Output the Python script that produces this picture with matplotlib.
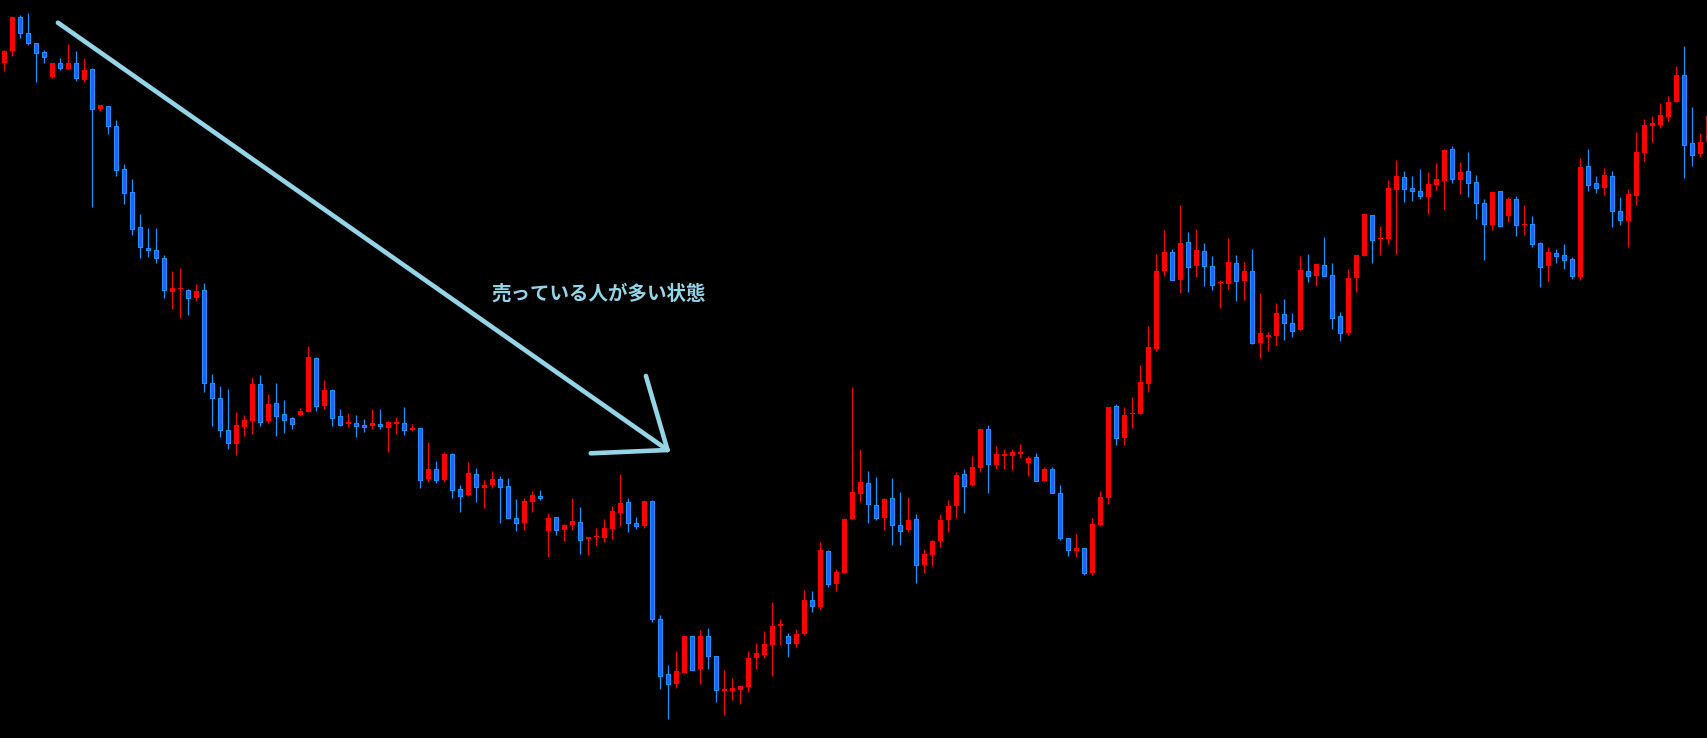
import matplotlib
matplotlib.use("Agg")
import matplotlib.pyplot as plt
import numpy as np

# ---- data (price levels, arbitrary units) ----
open_ = [675.3, 687.3, 720.7, 704.7, 694.7, 685.7, 661.3, 674.7, 669, 674.7,
         658, 668.7, 629.3, 631.7, 611.7, 568.7, 545.7, 510.7, 489.7, 487.7,
         479.7, 446.3, 448.7, 447.7, 440.3, 447.7, 355.3, 339.7, 308.3, 294.3,
         311.3, 317.3, 353.7, 317.3, 334.7, 324, 319.7, 323, 326.3, 379.7,
         332.3, 347.7, 321.7, 314.3, 314.7, 312.3, 312.3, 313.7, 310.3, 314.3,
         314.7, 308, 309.7, 259, 268.7, 258, 284, 249, 243, 263.7,
         250.3, 253, 258.7, 251.7, 220, 215.3, 236.3, 242, 207.3, 220.7,
         208.3, 213, 215.7, 199.3, 200.7, 200.3, 209, 225, 236, 215.3,
         212.3, 237, 119, 64, 54.3, 65.3, 102, 69.3, 102, 82,
         47.3, 47.3, 48.3, 51.3, 80.3, 83, 93, 112.3, 102, 94,
         104, 138, 131, 187, 154.3, 165.3, 219, 244.3, 255, 233,
         220.3, 240, 213, 208.3, 219, 173.3, 183.3, 197.3, 218.3, 232.3,
         264, 253, 270.3, 309, 273, 282.5, 282.3, 284.3, 275, 281,
         257.3, 269, 245, 200, 187.3, 190, 165.3, 213.3, 240.3, 332,
         300.3, 323.7, 324.3, 354.3, 389, 467, 486, 458.3, 496, 472.3,
         487, 472, 454.7, 454.3, 475, 457.3, 467, 395.3, 401.5, 402.3,
         424, 415, 408.3, 467, 462.3, 473, 463, 422, 405.3, 460.3,
         482.3, 523, 498.7, 499, 548.3, 561, 550, 547, 541.3, 553.3,
         557.3, 589, 558.3, 567, 556, 535, 513.3, 547, 522.3, 539,
         512.7, 514, 495, 472.3, 485, 483, 479, 461.3, 572, 555,
         550.3, 562, 527, 517.3, 542.3, 585.3, 612, 613, 621, 636.3,
         663, 595, 584.3, 596.3]

high = [688, 721, 723, 725, 694.7, 688, 674.7, 679.7, 694, 687,
        679.7, 669.7, 633, 631.7, 617.7, 574, 559, 524, 509.7, 509.7,
        482.7, 467, 470, 448.7, 453.7, 454.7, 364, 352, 349, 326,
        323, 361, 363, 344, 355, 338, 320.7, 330, 392, 380.7,
        358, 349, 329, 325, 323, 319, 329, 329, 317, 321,
        331, 314, 309.7, 296, 277, 286, 285, 253, 276, 270,
        258, 267, 262, 260, 239, 239.7, 247, 248, 225.3, 220.7,
        214, 240, 231, 201, 210, 219, 232, 264, 240, 221,
        237, 238, 123, 73, 87, 102, 102, 108, 110, 82,
        68.3, 60.3, 52, 87, 95, 107, 136, 119, 105, 109,
        148, 147, 196, 188, 169, 220, 351, 289, 267, 261,
        240, 260, 246, 241, 224, 189, 198, 224, 238, 266,
        269, 282, 309, 313, 292, 289, 289, 294, 282, 285,
        271, 271, 253, 200, 204, 190, 220, 247, 331, 334,
        331, 341, 373, 412, 484, 508, 489, 533, 506, 509,
        495, 482, 458, 500, 483, 476, 489, 445, 406, 435,
        439, 425, 482, 484, 474, 501, 475, 426, 469, 483,
        524, 523, 512, 558, 578, 567, 562, 569, 566, 575,
        589, 592, 576, 586, 563, 539, 546, 547, 541, 542,
        533, 522, 496, 491, 489, 494, 481, 580, 589, 562,
        570, 567, 541, 549, 606, 619, 622, 635, 642, 672,
        692, 631, 605, 622]

low = [667, 682.3, 700.3, 693.3, 656.3, 675.3, 660.3, 668.3, 669, 657.3,
       656.3, 531.3, 627.3, 604.3, 562.3, 534.3, 503.3, 480.3, 481.3, 475.3,
       440.3, 429, 420.3, 423.3, 437, 346.3, 312.3, 301.3, 289.3, 283,
       302.3, 304.3, 312.3, 315.3, 302.3, 305.3, 309.3, 322.3, 326.3, 327.3,
       329, 312.3, 312.3, 311.3, 301.3, 306.3, 309, 309, 286.3, 304.3,
       303.3, 307.3, 250.3, 256.3, 255.3, 256.3, 240.3, 226.3, 242.3, 236.3,
       230.3, 250.3, 215.3, 220.3, 207.3, 208.3, 226.3, 238.3, 181.3, 203.3,
       197, 208.3, 184.3, 183, 193, 196.3, 199, 212, 206, 209.3,
       210.3, 116.3, 49.3, 19.3, 50.3, 65.3, 68.3, 54.3, 69.3, 36.3,
       23.3, 38.3, 34.3, 46.3, 69.3, 80.3, 62.3, 93, 81.3, 91,
       103, 126.3, 129, 151.3, 147.3, 165.3, 219, 236.3, 215.3, 218.3,
       208.3, 193.3, 193.3, 206.3, 155.3, 165.3, 172.3, 191.3, 206.3, 220.3,
       225.3, 252.3, 266.3, 245.3, 269, 269, 268, 280, 262, 257.3,
       257.3, 245.3, 198.3, 182.3, 181.3, 163.3, 163.3, 212.3, 234.3, 293,
       293, 310.3, 324.3, 346.3, 387, 462.3, 458.3, 445, 446, 461.3,
       452.3, 448.3, 430.3, 449.3, 437.3, 438.3, 394.3, 380.3, 387.3, 393.3,
       398.3, 401.3, 408.3, 456.3, 452.3, 462.3, 409.3, 397.3, 403.3, 446.3,
       482.3, 475.3, 483, 494.3, 484.3, 536.3, 537.3, 539.3, 524.3, 548.3,
       529.3, 555.3, 544.3, 541.3, 519.3, 478.3, 508.3, 512.3, 516.3, 502.3,
       503.3, 491.3, 451.3, 457.3, 475.3, 469.3, 459.3, 458.3, 547.3, 545.3,
       543.3, 511.3, 513.3, 491.3, 533.3, 577.3, 596.3, 610.3, 617.3, 636.3,
       560.3, 572.3, 581.3, 596.3]

close = [687, 721, 704.7, 695.3, 684.7, 680.7, 674.7, 669.7, 674.7, 659.7,
         668, 628.7, 633, 611.7, 567.7, 544.7, 509.3, 490.7, 487.7, 479.7,
         447.7, 449.7, 449, 439.7, 446.7, 355.3, 340.3, 308.3, 295.3, 312.7,
         318, 354, 316.3, 334, 322.3, 318.3, 314.3, 327, 381, 331.7,
         347.7, 320.3, 313.3, 315, 312.3, 311.3, 314.7, 311.7, 315.7, 314.7,
         308.3, 310, 258.3, 268.7, 258.3, 284, 248.3, 242.3, 264.7, 251.3,
         253, 259, 251.3, 220.3, 215.3, 237, 243, 240.3, 220, 208.3,
         213, 217, 198.3, 201, 201, 210, 227, 235, 215.3, 212.3,
         237, 119.3, 62.3, 54.3, 67, 102, 68.3, 102, 82.3, 48.3,
         49, 50, 52, 80, 85, 94, 112, 114, 95.3, 104,
         138, 132.3, 188, 154.3, 166, 219, 246, 256, 233.7, 220.3,
         239, 213.3, 207.3, 218, 173.3, 184, 197, 218, 232, 263,
         252.3, 271, 309, 274.3, 284, 283, 286, 284.7, 280, 257.3,
         269, 245.3, 200.3, 188.3, 190, 165.3, 214, 241, 331, 300.3,
         323, 325, 356, 391, 467, 486, 458.3, 495, 471.3, 488,
         472.3, 453.3, 455, 476, 457.3, 467, 395.3, 405, 401.7, 425,
         415.3, 407.3, 468, 462.3, 474, 462.3, 420.3, 405.3, 460, 483,
         524, 498.3, 499, 550, 562, 549.5, 547.3, 541.7, 554, 559,
         588, 559.3, 566, 555.3, 535.3, 514.3, 546, 512.3, 539, 513.3,
         513, 494.3, 471.3, 486, 482.3, 478.3, 462.3, 571, 553.3, 550.3,
         563, 527.3, 518.3, 544, 586, 613, 615, 623, 636, 663,
         593.3, 583.3, 596, 622]

label_text = "売っている人が多い状態"

# ---- styles ----
BG = "#000000"
UP_COLOR = "#ff0000"
DOWN_FACE = "#2a5bff"
DOWN_EDGE = "#1e90ff"
ARROW_COLOR = "#94d6e8"

o = np.array(open_, dtype=float)
h = np.array(high, dtype=float)
l = np.array(low, dtype=float)
c = np.array(close, dtype=float)
x = np.arange(len(o))
up = c >= o

fig = plt.figure(figsize=(17.07, 7.38), dpi=100, facecolor=BG)
ax = fig.add_axes([0, 0, 1, 1])
ax.set_facecolor(BG)
ax.set_xlim(-0.54, 212.83)
ax.set_ylim(0, 738)
ax.axis("off")

# wicks
ax.vlines(x[up], l[up], h[up], color=UP_COLOR, linewidth=0.9, zorder=2)
ax.vlines(x[~up], l[~up], h[~up], color=DOWN_EDGE, linewidth=0.9, zorder=2)

# bodies
min_h = 1.3
body_lo = np.minimum(o, c)
body_h = np.maximum(np.abs(c - o), min_h)
ax.bar(x[up], body_h[up], bottom=body_lo[up], width=0.62,
       color=UP_COLOR, linewidth=0, zorder=3)
ax.bar(x[~up], body_h[~up], bottom=body_lo[~up], width=0.5,
       color=DOWN_FACE, edgecolor=DOWN_EDGE, linewidth=0.8, zorder=3)

# hand-drawn style arrow (annotation)
lw = 3.3
ax.plot([6.7, 82.9], [715.3, 288], color=ARROW_COLOR, lw=lw,
        solid_capstyle="round", zorder=5)
ax.plot([80.2, 82.9], [362, 288], color=ARROW_COLOR, lw=lw,
        solid_capstyle="round", zorder=5)
ax.plot([73.3, 82.9], [284.7, 288], color=ARROW_COLOR, lw=lw,
        solid_capstyle="round", zorder=5)

ax.text(74.3, 444, label_text, color=ARROW_COLOR, fontsize=14,
        fontweight="bold", ha="center", va="center",
        family=["Noto Sans CJK JP", "DejaVu Sans"], zorder=6)

fig.savefig("out.png", dpi=100, facecolor=BG)
